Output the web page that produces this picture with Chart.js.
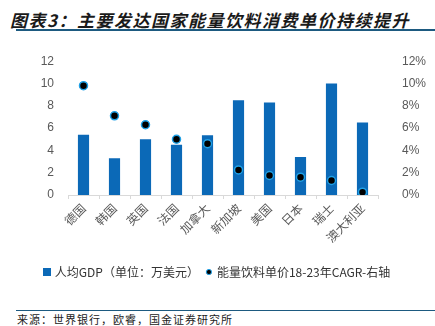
<!DOCTYPE html>
<html>
<head>
<meta charset="utf-8">
<script src="https://cdn.jsdelivr.net/npm/chart.js@4/dist/chart.umd.min.js"></script>
<style>
  html, body { margin: 0; padding: 0; background: #fff; }
  #wrap { position: relative; width: 435px; height: 326px; overflow: hidden; }
  #title { position: absolute; left: 10px; top: 7px; font: italic bold 17px "Noto Sans CJK SC", sans-serif; color: #1a1a1a; letter-spacing: 1.5px; white-space: nowrap; }
  #topline { position: absolute; left: 16px; top: 29px; width: 419px; height: 2px; background: #1d5a80; }
  #box { position: absolute; left: 0; top: 38px; width: 435px; height: 250px; }
  #botline { position: absolute; left: 16px; top: 310px; width: 419px; height: 1px; background: #1d5a80; }
  #source { position: absolute; left: 17px; top: 311px; font: 11px "Noto Sans CJK SC", sans-serif; color: #222; letter-spacing: 1px; white-space: nowrap; }
</style>
</head>
<body>
<div id="wrap">
  <div id="title">图表3：主要发达国家能量饮料消费单价持续提升</div>
  <div id="topline"></div>
  <div id="box"><canvas id="chart"></canvas></div>
  <div id="botline"></div>
  <div id="source">来源：世界银行，欧睿，国金证券研究所</div>
</div>
<script>
// countries
var countries = ['德国', '韩国', '英国', '法国', '加拿大', '新加坡', '美国', '日本', '瑞士', '澳大利亚'];
// GDP per capita, 10k USD (left axis)
var gdpPerCapita = [5.4, 3.3, 5.0, 4.5, 5.35, 8.5, 8.3, 3.4, 10.0, 6.5];
// energy drink unit price CAGR 18-23, % (right axis)
var priceCagr = [9.8, 7.1, 6.3, 5.0, 4.6, 2.25, 1.75, 1.6, 1.3, 0.25];

var leftTicks = [0, 2, 4, 6, 8, 10, 12];
var tickFont = { family: 'Liberation Sans, Arial, sans-serif', size: 12 };
var cjkFont = { family: 'Noto Sans CJK SC, sans-serif', size: 12 };

var barBlue = '#0b69b7';
var dotBlue = '#1ea0e6';

// small legend markers
function marker(kind) {
  var c = document.createElement('canvas');
  c.width = 8; c.height = 8;
  var g = c.getContext('2d');
  if (kind === 'rect') {
    g.fillStyle = barBlue;
    g.fillRect(0, 0, 8, 8);
  } else {
    g.beginPath();
    g.arc(4, 4, 2.6, 0, Math.PI * 2);
    g.fillStyle = '#000';
    g.fill();
    g.lineWidth = 1;
    g.strokeStyle = dotBlue;
    g.stroke();
  }
  return c;
}
var rectMark = marker('rect');
var dotMark = marker('dot');

new Chart(document.getElementById('chart'), {
  type: 'bar',
  data: {
    labels: countries,
    datasets: [
      {
        label: '人均GDP（单位：万美元）',
        data: gdpPerCapita,
        backgroundColor: barBlue,
        barPercentage: 0.72,
        categoryPercentage: 0.5,
        yAxisID: 'y',
        order: 2
      },
      {
        type: 'line',
        label: '能量饮料单价18-23年CAGR-右轴',
        data: priceCagr,
        showLine: false,
        pointRadius: 4,
        pointBorderWidth: 1.5,
        pointBackgroundColor: '#000',
        pointBorderColor: dotBlue,
        yAxisID: 'y1',
        order: 1
      }
    ]
  },
  options: {
    responsive: true,
    maintainAspectRatio: false,
    animation: false,
    layout: { padding: { top: 12, left: 0, right: 0, bottom: 0 } },
    plugins: {
      tooltip: { enabled: false },
      legend: {
        position: 'bottom',
        labels: {
          usePointStyle: true,
          boxWidth: 8,
          boxHeight: 8,
          pointStyleWidth: 4,
          padding: 8,
          color: '#333',
          font: cjkFont,
          sort: function (a, b) { return a.datasetIndex - b.datasetIndex; },
          generateLabels: function (chart) {
            var items = Chart.defaults.plugins.legend.labels.generateLabels(chart);
            items.forEach(function (it) {
              it.pointStyle = it.datasetIndex === 0 ? rectMark : dotMark;
            });
            return items;
          }
        }
      }
    },
    scales: {
      x: {
        grid: { display: true, drawOnChartArea: false, tickLength: 4, color: '#d9d9d9' },
        border: { color: '#d9d9d9' },
        ticks: { color: '#595959', font: cjkFont, minRotation: 45, maxRotation: 45, padding: 2 },
        afterFit: function (s) { s.height = 63; }
      },
      y: {
        position: 'left',
        min: 0, max: 12,
        afterBuildTicks: function (s) { s.ticks = leftTicks.map(function (v) { return { value: v }; }); },
        grid: { display: false },
        border: { display: false },
        ticks: { color: '#595959', font: tickFont, padding: 6 },
        afterFit: function (s) { s.width = 68; }
      },
      y1: {
        position: 'right',
        min: 0, max: 12,
        afterBuildTicks: function (s) { s.ticks = leftTicks.map(function (v) { return { value: v }; }); },
        grid: { display: false },
        border: { display: false },
        ticks: { color: '#595959', font: tickFont, padding: 16, callback: function (v) { return v + '%'; } },
        afterFit: function (s) { s.width = 57; }
      }
    }
  }
});
</script>
</body>
</html>
